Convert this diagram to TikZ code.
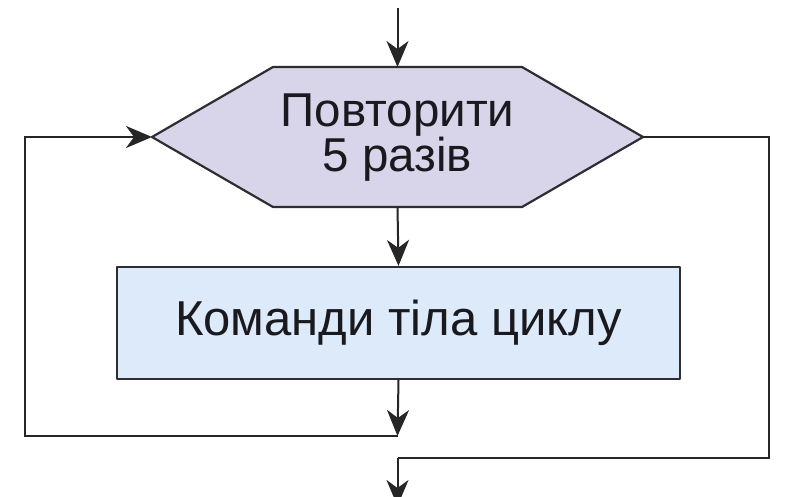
\documentclass[tikz,border=0pt]{standalone}
\usepackage{fontspec}
\setmainfont{Liberation Sans}
\usetikzlibrary{arrows.meta}
\definecolor{hexfill}{RGB}{216,212,234}
\definecolor{boxfill}{RGB}{220,234,249}
\definecolor{edge}{RGB}{45,45,50}
\definecolor{txt}{RGB}{25,25,30}
\tikzset{
  conn/.style={draw=black!85, line width=2pt},
  arr/.style={conn, -{Stealth[length=26pt,width=22pt,inset=8pt]}},
  shapeline/.style={draw=edge, line width=2.2pt, line join=round},
  lbl/.style={text=txt, align=center, inner sep=0pt},
}
\begin{document}
\begin{tikzpicture}[x=1pt,y=-1pt]
\useasboundingbox (0,0) rectangle (800,496);
\clip (0,0) rectangle (800,496);
\fill[white] (0,0) rectangle (800,496);
% hexagon
\coordinate (hw) at (152,137);
\coordinate (hnw) at (273,67);
\coordinate (hne) at (522,67);
\coordinate (he) at (643,137);
\coordinate (hse) at (522,207);
\coordinate (hsw) at (273,207);
\coordinate (hn) at (397.5,67);
\coordinate (hs) at (397.5,207);
\path[shapeline, fill=hexfill] (hw) -- (hnw) -- (hne) -- (he) -- (hse) -- (hsw) -- cycle;
\node[lbl, font=\fontsize{47.5}{45}\selectfont] (loop) at (397.5,138) {Повторити\\5 разів};
% body box
\node[shapeline, fill=boxfill, minimum width=563pt, minimum height=112pt, inner sep=0pt,
      font=\fontsize{49}{49}\selectfont, text=txt] (body) at (398.5,323) {Команди тіла циклу};
% free ends
\coordinate (top) at (397.5,8);
\coordinate (join) at (397.5,436);
\coordinate (lb) at (25,436);
\coordinate (lt) at (25,137);
\coordinate (rt) at (769,137);
\coordinate (rb) at (769,458);
\coordinate (mb) at (397.5,458);
\coordinate (out) at (397.5,506);
% connectors
\draw[arr] (top) -- (hn);
\draw[arr] (hs) -- (body.north);
\draw[arr] (body.south) -- (join);
\draw[arr] (join) -- (lb) -- (lt) -- (hw);
\draw[conn] (he) -- (rt) -- (rb) -- (mb);
\draw[arr] (mb) -- (out);
\end{tikzpicture}
\end{document}
